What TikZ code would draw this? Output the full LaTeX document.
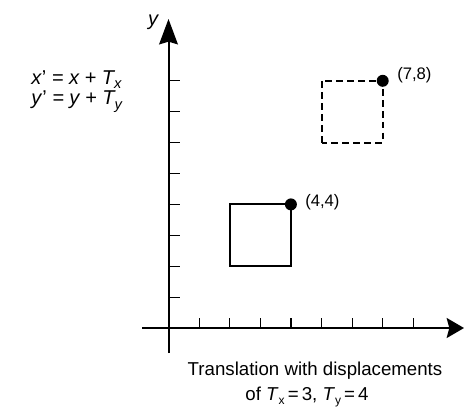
\documentclass[tikz,border=0pt]{standalone}
\usepackage{fontspec}
\setmainfont{Liberation Sans}
\usetikzlibrary{arrows.meta}
\begin{document}
\begin{tikzpicture}[x=0.75pt,y=-0.75pt,
  axis/.style={line width=1.5pt},
  tickline/.style={line width=0.9pt},
  sq/.style={line width=1.5pt},
  dot/.style={circle,fill=black,inner sep=0pt,minimum size=9pt},
  lbl/.style={font=\fontsize{12.5}{14}\selectfont,inner sep=0pt,anchor=west},
  captxt/.style={font=\fontsize{14}{17}\selectfont,inner sep=0pt,anchor=base},
  eq/.style={font=\fontsize{15}{17}\selectfont\itshape,inner sep=0pt,anchor=base west}]
\useasboundingbox (0,0) rectangle (464,408);
% axes
\coordinate (ybot) at (168.5,353);
\coordinate (ytop) at (168.5,19);
\coordinate (xleft) at (142,328);
\coordinate (xright) at (464,328);
\draw[axis,-{Stealth[length=19pt,width=14pt,inset=2pt]}] (ybot) -- (ytop);
\draw[axis,-{Stealth[length=13pt,width=15pt,inset=2pt]}] (xleft) -- (xright);
% ticks
\foreach \i in {1,...,8}{
  \draw[tickline] (168.5+30.6*\i,328) -- ++(0,-10);
  \draw[tickline] (168.5,328-30.9*\i) -- ++(11,0);
}
\node[font=\fontsize{15}{17}\selectfont\itshape,inner sep=0pt,anchor=base] (ylab) at (153,25) {y};
% squares
\coordinate (a1) at (229.7,266.2);
\coordinate (a2) at (290.9,204.4);
\draw[sq] (a1) rectangle (a2);
\coordinate (b1) at (321.5,142.6);
\coordinate (b2) at (382.7,80.8);
\draw[sq,dash pattern=on 5pt off 3.2pt] (b1) rectangle (b2);
\node[dot] (p44) at (a2) {};
\node[dot] (p78) at (b2) {};
\node[lbl] (l44) at (305,202) {(4,4)};
\node[lbl] (l78) at (397,75) {(7,8)};
% equations
\node[eq] (e1) at (31,84) {x\textup{'} = x + T\raisebox{-0.4ex}{\fontsize{11}{12}\selectfont x}};
\node[eq] (e2) at (31,104) {y\textup{'} = y + T\raisebox{-0.5ex}{\fontsize{11}{12}\selectfont y}};
% caption
\node[captxt] (c1) at (315,375) {Translation with displacements};
\node[captxt] (c2) at (307,400) {of \textit{T}\raisebox{-0.5ex}{\fontsize{9}{11}\selectfont x}\,=\,3, \textit{T}\raisebox{-0.5ex}{\fontsize{9}{11}\selectfont y}\,=\,4};
\end{tikzpicture}
\end{document}
